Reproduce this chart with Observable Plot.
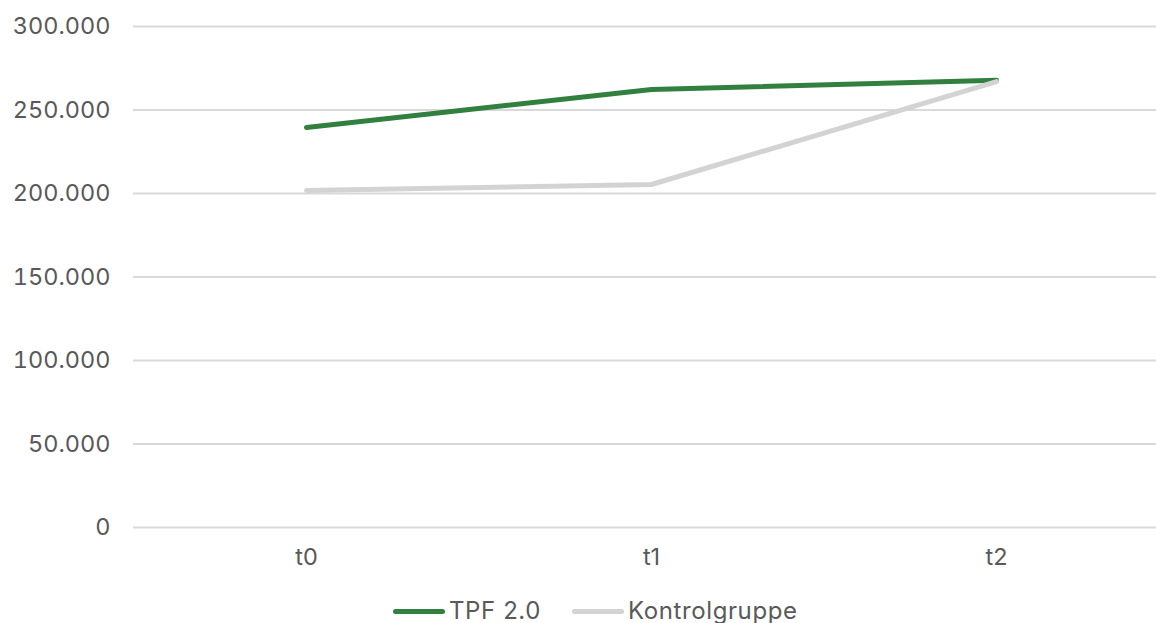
<!DOCTYPE html>
<html><head><meta charset="utf-8">
<script src="https://cdn.jsdelivr.net/npm/d3@7"></script>
<script src="https://cdn.jsdelivr.net/npm/@observablehq/plot@0.6"></script>
<style>
body{margin:0;background:#fff;font-family:Inter,"DejaVu Sans",sans-serif;overflow:hidden}
#legend{position:absolute;left:0;top:597px;width:1156px;height:28px;font-size:24px;color:#595959;line-height:28px;letter-spacing:0.6px}
.item{position:absolute;top:0;display:flex;align-items:center;white-space:nowrap}
.sw{width:52px;height:5px;border-radius:3px;margin-right:4px}
</style></head><body>
<div id="chart"></div>
<div id="legend"></div>
<script>
const periods = ["t0","t1","t2"];
const seriesNames = ["TPF 2.0","Kontrolgruppe"];
const tpfValues = [239500, 262300, 267800];
const kontrolValues = [201800, 205400, 267000];
const colors = ["#31803f","#d3d3d3"];
const yTicks = [0,50000,100000,150000,200000,250000,300000];

const data = [];
periods.forEach((p,i)=>data.push({period:p, series:seriesNames[0], value:tpfValues[i]}));
periods.forEach((p,i)=>data.push({period:p, series:seriesNames[1], value:kontrolValues[i]}));

const fmt = d => d3.format(",")(d).replace(/,/g,".");

const chart = Plot.plot({
  width:1156, height:580,
  marginLeft:133, marginRight:0, marginTop:26, marginBottom:53,
  style:{fontFamily:"Inter, 'DejaVu Sans', sans-serif", fontSize:"23.5px", color:"#595959", background:"#fff"},
  x:{type:"point", domain:periods, padding:0.5, range:[133,1168], label:null},
  y:{domain:[0,300000], label:null},
  color:{domain:seriesNames, range:colors},
  marks:[
    Plot.gridY(yTicks,{stroke:"#d9d9d9", strokeOpacity:1, strokeWidth:2}),
    Plot.axisY(yTicks,{tickSize:0, tickPadding:23, tickFormat:fmt, fill:"#595959"}),
    Plot.axisX({tickSize:0, tickPadding:21, fill:"#595959"}),
    Plot.line(data,{x:"period", y:"value", z:"series", stroke:"series", strokeWidth:5, strokeLinecap:"round", strokeLinejoin:"round"})
  ]
});
document.getElementById("chart").appendChild(chart);

const leg = document.getElementById("legend");
const legendLeft = [393, 572];
seriesNames.forEach((s,i)=>{
  const it = document.createElement("div"); it.className="item"; it.style.left = legendLeft[i]+"px";
  const sw = document.createElement("div"); sw.className="sw"; sw.style.background=colors[i];
  const t = document.createElement("span"); t.textContent=s;
  it.appendChild(sw); it.appendChild(t); leg.appendChild(it);
});
</script>
</body></html>
